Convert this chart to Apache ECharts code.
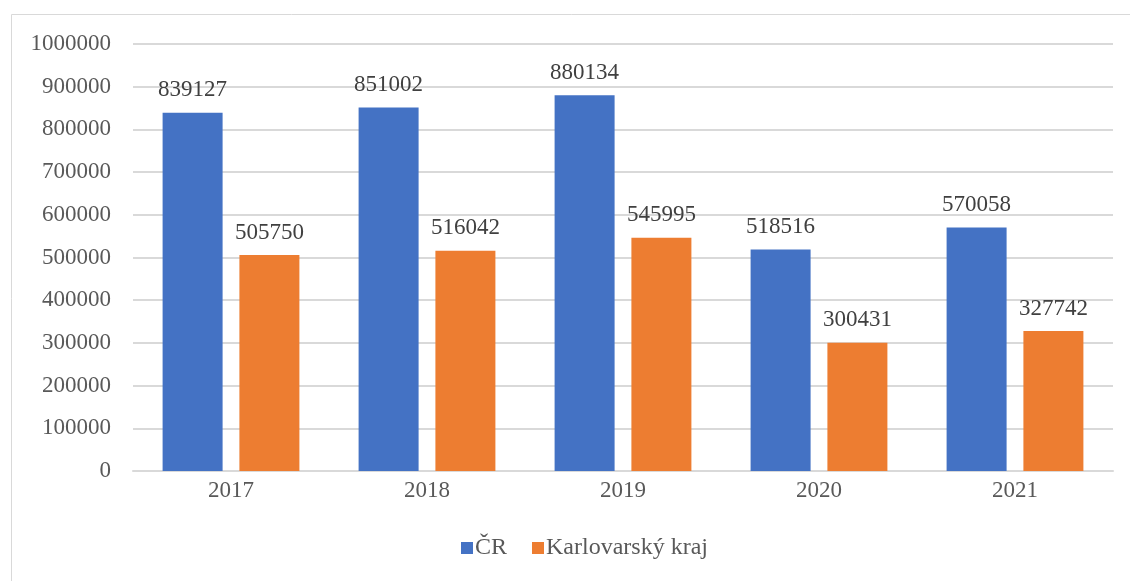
<!DOCTYPE html>
<html>
<head>
<meta charset="utf-8">
<script src="https://cdn.jsdelivr.net/npm/echarts@6/dist/echarts.min.js"></script>
<style>
  html, body { margin: 0; padding: 0; background: #fff; }
  #echart { width: 1130px; height: 581px; }
</style>
</head>
<body>
<div id="echart"></div>
<script>
var years = ['2017', '2018', '2019', '2020', '2021'];
var cr = [839127, 851002, 880134, 518516, 570058];
var karlovarsky = [505750, 516042, 545995, 300431, 327742];

var font = '"Liberation Serif", "Times New Roman", serif';
var myChart = echarts.init(document.getElementById('echart'));
var option = {
    animation: false,
    textStyle: { fontFamily: font },
    graphic: [{
        type: 'rect',
        shape: { x: 11.5, y: 14.5, width: 1200, height: 700 },
        style: { fill: 'none', stroke: '#d9d9d9', lineWidth: 1 },
        silent: true
    }],
    legend: {
        data: ['ČR', 'Karlovarský kraj'],
        bottom: 16,
        left: 456,
        itemWidth: 12,
        itemHeight: 12,
        itemGap: 25,
        icon: 'rect',
        textStyle: { fontFamily: font, fontSize: 24, color: '#595959', padding: [0, 0, 0, -3] }
    },
    grid: { left: 133, right: 17, top: 44, bottom: 110, containLabel: false },
    xAxis: {
        type: 'category',
        data: years,
        axisLine: { lineStyle: { color: '#d9d9d9', width: 2 } },
        axisTick: { show: false },
        axisLabel: { fontFamily: font, fontSize: 23, color: '#595959', margin: 8 }
    },
    yAxis: {
        type: 'value',
        min: 0,
        max: 1000000,
        interval: 100000,
        axisLine: { show: false },
        axisTick: { show: false },
        splitLine: { lineStyle: { color: '#d9d9d9', width: 2 } },
        axisLabel: {
            fontFamily: font, fontSize: 23, color: '#595959', margin: 22,
            formatter: function (v) { return String(v); }
        }
    },
    series: [
        {
            name: 'ČR',
            type: 'bar',
            data: cr,
            barWidth: 60,
            barGap: '28%',
            itemStyle: { color: '#4472c4' },
            label: { show: true, position: 'top', distance: 11, fontFamily: font, fontSize: 23, color: '#404040' }
        },
        {
            name: 'Karlovarský kraj',
            type: 'bar',
            data: karlovarsky,
            barWidth: 60,
            itemStyle: { color: '#ed7d31' },
            label: { show: true, position: 'top', distance: 11, fontFamily: font, fontSize: 23, color: '#404040' }
        }
    ]
};
myChart.setOption(option);
window.onresize = myChart.resize;
</script>
</body>
</html>
